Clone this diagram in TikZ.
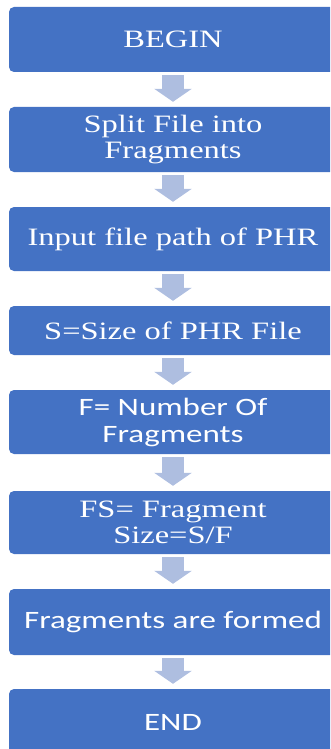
\documentclass[tikz,border=0pt]{standalone}
\usepackage{fontspec}
\setmainfont{Liberation Serif}[FakeStretch=1.3]
\newfontfamily\boxsans{Carlito}[FakeStretch=1.32]
\usepackage{tikz}
\usetikzlibrary{arrows.meta}
\definecolor{boxblue}{HTML}{4472C4}
\definecolor{arrowgrey}{HTML}{AEBEE0}
\tikzset{stepbox/.style={rectangle,rounded corners=5pt,fill=boxblue,text=white,
  minimum width=328pt,inner sep=2pt,align=center,font=\fontsize{25}{26}\selectfont},
  sansbox/.style={stepbox,font=\boxsans\fontsize{25}{27}\selectfont},
  flow/.style={-{Triangle[length=13pt,width=37pt]},line width=22pt,draw=arrowgrey,
  shorten <=3pt,shorten >=5pt}}

\begin{document}
\begin{tikzpicture}[x=1pt,y=-1pt]
 \useasboundingbox (0,0) rectangle (330,749);
 \clip (0,0) rectangle (330,749);
 \node[stepbox,minimum height=65pt] (begin) at (173,39.5) {BEGIN};
 \node[stepbox,minimum height=65pt] (split) at (173,139.5) {Split File into\\Fragments};
 \node[stepbox,minimum height=64pt] (path) at (173,239) {Input file path of PHR};
 \node[stepbox,minimum height=49pt] (size) at (173,330.5) {S=Size of PHR File};
 \node[sansbox,minimum height=64pt] (count) at (173,422) {F= Number Of\\Fragments};
 \node[stepbox,minimum height=63pt] (fsize) at (173,522.5) {FS= Fragment\\Size=S/F};
 \node[sansbox,minimum height=66pt] (formed) at (173,622) {Fragments are formed};
 \node[sansbox,minimum height=66pt] (end) at (173,722) {END};
 \draw[flow] (begin.south)--(split.north);\draw[flow] (split.south)--(path.north);
 \draw[flow] (path.south)--(size.north);\draw[flow] (size.south)--(count.north);
 \draw[flow] (count.south)--(fsize.north);\draw[flow] (fsize.south)--(formed.north);
 \draw[flow] (formed.south)--(end.north);
\end{tikzpicture}
\end{document}
